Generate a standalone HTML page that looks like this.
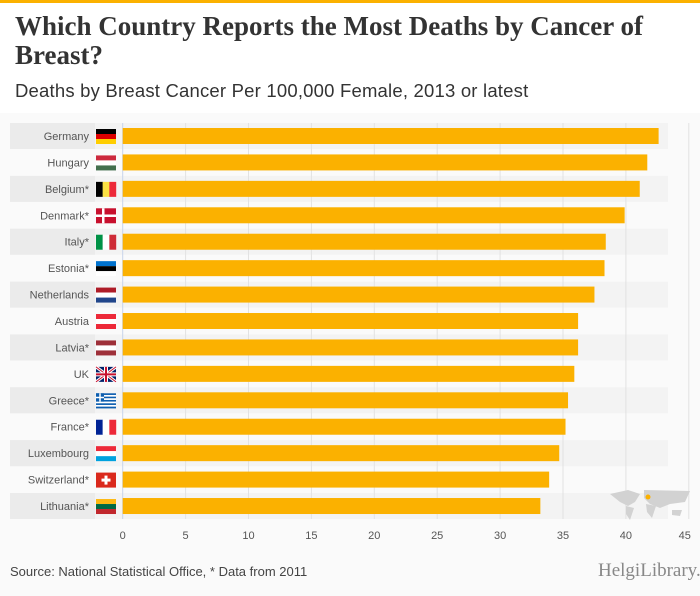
<!DOCTYPE html>
<html><head><meta charset="utf-8"><style>
body{margin:0;width:700px;height:596px;background:#fafafa;font-family:"Liberation Sans",sans-serif;overflow:hidden;position:relative}
.topbar{position:absolute;left:0;top:0;width:700px;height:3px;background:#fbb100}
.head{position:absolute;left:0;top:3px;width:700px;height:110px;background:#fff}
h1{position:absolute;left:15px;top:12px;margin:0;font-family:"Liberation Serif",serif;font-size:27px;line-height:29px;color:#333;font-weight:bold;width:680px}
.sub{position:absolute;left:15px;top:80px;font-size:18.5px;color:#333;letter-spacing:0.2px}
.src{position:absolute;left:10px;top:564px;font-size:13px;color:#444}
.logo{position:absolute;left:598px;top:560px;font-size:19px;color:#888;font-family:"Liberation Serif",serif}
</style></head><body>
<div class="topbar"></div>
<div class="head"></div>
<h1>Which Country Reports the Most Deaths by Cancer of Breast?</h1>
<div class="sub">Deaths by Breast Cancer Per 100,000 Female, 2013 or latest</div>
<svg id="chart" width="700" height="596" style="position:absolute;left:0;top:0"></svg>
<div class="src">Source: National Statistical Office, * Data from 2011</div>
<div class="logo">HelgiLibrary.</div>
<script>
const countries=["Germany","Hungary","Belgium*","Denmark*","Italy*","Estonia*","Netherlands","Austria","Latvia*","UK","Greece*","France*","Luxembourg","Switzerland*","Lithuania*"];
const values=[42.6,41.7,41.1,39.9,38.4,38.3,37.5,36.2,36.2,35.9,35.4,35.2,34.7,33.9,33.2];
const ticks=[0,5,10,15,20,25,30,35,40,45];
const flags=[
 ["h","#000","#dd0000","#ffce00"],["h","#cd2a3e","#fff","#436f4d"],["v","#000","#fae042","#ed2939"],["dk"],
 ["v","#009246","#fff","#ce2b37"],["h","#0072ce","#000","#fff"],["h","#ae1c28","#fff","#21468b"],["h","#ed2939","#fff","#ed2939"],
 ["h","#9e3039","#fff","#9e3039"],["uk"],["gr"],["v","#002395","#fff","#ed2939"],["h","#ed2939","#fff","#00a1de"],["ch"],["h","#fdb913","#006a44","#c1272d"]];
const NS="http://www.w3.org/2000/svg";
const svg=document.getElementById('chart');
const x0=122.7,sc=12.58,y0=123,step=26.43;
const X=v=>x0+v*sc;
function mk(t,a,p){const e=document.createElementNS(NS,t);for(const k in a)e.setAttribute(k,a[k]);(p||svg).appendChild(e);return e;}
countries.forEach((c,i)=>{if(i%2===0){
 const r=mk('rect',{x:10,y:y0+i*step,width:658,height:26,fill:'#f3f3f3'});
 
 const r2=mk('rect',{x:10,y:y0+i*step,width:85,height:26,fill:'#ebebeb'});
 }});
ticks.forEach(t=>{
 const l=mk('line',{x1:X(t),x2:X(t),y1:123,y2:519,stroke:t===0?'#c8d4ea':'#e2e2e2','stroke-width':1});
 
 const tx=mk('text',{x:X(t)-(t===45?4:0),y:539,'text-anchor':'middle','font-size':11,fill:'#555'});tx.textContent=t;
 
});
const mg=mk('g',{fill:'#d2d2d2'});

mk('path',{d:'M610 494 L628 490 L640 494 L635 502 L628 506 L620 502 Z'},mg);
mk('path',{d:'M626 506 L634 508 L630 520 L626 514 Z'},mg);
mk('path',{d:'M644 490 L690 491 L685 502 L670 504 L660 508 L650 504 L644 498 Z'},mg);
mk('path',{d:'M646 504 L656 506 L652 518 L647 512 Z'},mg);
mk('path',{d:'M672 510 L682 510 L680 516 L672 515 Z'},mg);
mk('circle',{cx:648,cy:497,r:2.5,fill:'#fbb100'},mg);
countries.forEach((c,i)=>{
 const yt=y0+i*step;
 const b=mk('rect',{x:X(0),y:yt+5,width:X(values[i])-X(0),height:16,fill:'#fbb100'});
 
 const t=mk('text',{x:89,y:yt+17,'text-anchor':'end','font-size':11,fill:'#555'});t.textContent=c;
 
 const g=mk('g',{transform:`translate(96,${yt+6})`});
 
 const f=flags[i],w=20,h=15;
 if(f[0]==='h'){for(let k=0;k<3;k++)mk('rect',{x:0,y:k*5,width:w,height:5,fill:f[k+1]},g);}
 else if(f[0]==='v'){for(let k=0;k<3;k++)mk('rect',{x:k*w/3,y:0,width:w/3+0.2,height:h,fill:f[k+1]},g);}
 else if(f[0]==='dk'){mk('rect',{width:w,height:h,fill:'#c8102e'},g);mk('rect',{x:6,y:0,width:2.5,height:h,fill:'#fff'},g);mk('rect',{x:0,y:6.2,width:w,height:2.5,fill:'#fff'},g);}
 else if(f[0]==='ch'){mk('rect',{width:w,height:h,fill:'#da291c'},g);mk('rect',{x:8.5,y:3,width:3,height:9,fill:'#fff'},g);mk('rect',{x:5.5,y:6,width:9,height:3,fill:'#fff'},g);}
 else if(f[0]==='uk'){mk('rect',{width:w,height:h,fill:'#012169'},g);mk('path',{d:'M0 0L20 15M20 0L0 15',stroke:'#fff','stroke-width':3},g);mk('path',{d:'M0 0L20 15M20 0L0 15',stroke:'#c8102e','stroke-width':1},g);mk('path',{d:'M10 0V15M0 7.5H20',stroke:'#fff','stroke-width':4},g);mk('path',{d:'M10 0V15M0 7.5H20',stroke:'#c8102e','stroke-width':2},g);}
 else if(f[0]==='gr'){for(let k=0;k<9;k++)mk('rect',{x:0,y:k*h/9,width:w,height:h/9+0.1,fill:k%2?'#fff':'#0d5eaf'},g);mk('rect',{width:8,height:8.3,fill:'#0d5eaf'},g);mk('path',{d:'M4 0V8.3M0 4.2H8',stroke:'#fff','stroke-width':1.5},g);}
});
</script>
</body></html>
